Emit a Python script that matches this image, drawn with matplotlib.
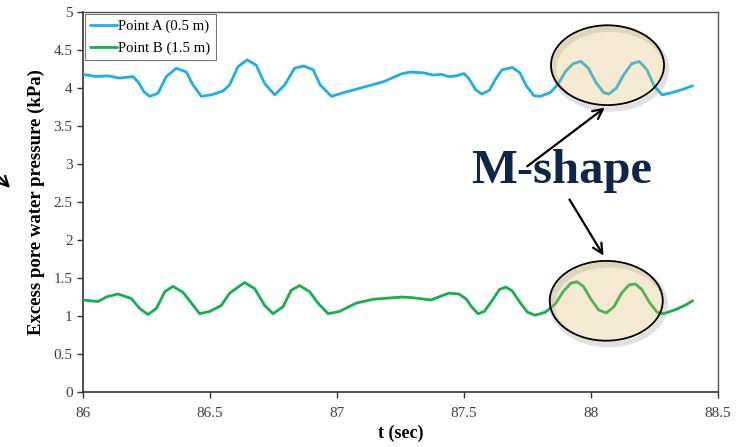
import matplotlib
matplotlib.use("Agg")
import matplotlib.pyplot as plt
from matplotlib.patches import Ellipse

# ---- data ----
t_a = [86.000, 86.052, 86.098, 86.144, 86.197, 86.217, 86.240, 86.262, 86.295, 86.328,
       86.367, 86.407, 86.433, 86.466, 86.505, 86.551, 86.577, 86.610, 86.646, 86.682,
       86.715, 86.755, 86.794, 86.833, 86.869, 86.906, 86.934, 86.978, 87.037, 87.115,
       87.181, 87.257, 87.29, 87.34, 87.38, 87.41, 87.44, 87.47, 87.50, 87.52,
       87.545, 87.57, 87.60, 87.625, 87.65, 87.69, 87.72, 87.745, 87.775, 87.80,
       87.84, 87.87, 87.90, 87.93, 87.96, 87.99, 88.02, 88.05, 88.07, 88.10,
       88.13, 88.16, 88.19, 88.22, 88.25, 88.28, 88.32, 88.36, 88.40]
p_a = [4.18, 4.15, 4.16, 4.13, 4.15, 4.08, 3.95, 3.89, 3.93, 4.15,
       4.26, 4.21, 4.04, 3.89, 3.91, 3.96, 4.04, 4.28, 4.37, 4.30,
       4.06, 3.91, 4.04, 4.26, 4.29, 4.24, 4.04, 3.89, 3.95, 4.02,
       4.08, 4.19, 4.21, 4.20, 4.17, 4.18, 4.15, 4.16, 4.19, 4.12,
       3.98, 3.92, 3.97, 4.12, 4.24, 4.27, 4.20, 4.03, 3.90, 3.89,
       3.94, 4.05, 4.22, 4.32, 4.35, 4.26, 4.07, 3.94, 3.92, 4.00,
       4.18, 4.32, 4.35, 4.24, 4.02, 3.91, 3.94, 3.98, 4.03]

t_b = [86.000, 86.059, 86.092, 86.138, 86.190, 86.223, 86.256, 86.289, 86.322, 86.354,
       86.394, 86.427, 86.459, 86.499, 86.545, 86.577, 86.636, 86.676, 86.715, 86.748,
       86.787, 86.820, 86.853, 86.892, 86.925, 86.965, 87.010, 87.076, 87.142, 87.257,
       87.30, 87.37, 87.40, 87.44, 87.48, 87.51, 87.53, 87.555, 87.58, 87.61,
       87.64, 87.665, 87.69, 87.72, 87.75, 87.78, 87.82, 87.86, 87.89, 87.92,
       87.945, 87.97, 88.00, 88.03, 88.06, 88.09, 88.12, 88.15, 88.175, 88.20,
       88.23, 88.26, 88.285, 88.33, 88.37, 88.40]
p_b = [1.21, 1.19, 1.25, 1.29, 1.23, 1.10, 1.02, 1.10, 1.32, 1.39,
       1.31, 1.17, 1.03, 1.06, 1.14, 1.30, 1.44, 1.36, 1.14, 1.03,
       1.12, 1.34, 1.40, 1.32, 1.17, 1.03, 1.06, 1.17, 1.22, 1.25,
       1.24, 1.21, 1.25, 1.30, 1.29, 1.22, 1.12, 1.03, 1.06, 1.20,
       1.35, 1.38, 1.33, 1.18, 1.05, 1.01, 1.05, 1.16, 1.32, 1.43,
       1.45, 1.39, 1.22, 1.08, 1.04, 1.12, 1.30, 1.41, 1.42, 1.35,
       1.18, 1.05, 1.03, 1.08, 1.14, 1.20]

series_labels = ["Point A (0.5 m)", "Point B (1.5 m)"]
x_ticks = [86, 86.5, 87, 87.5, 88, 88.5]
x_tick_labels = ["86", "86.5", "87", "87.5", "88", "88.5"]
y_ticks = [0, 0.5, 1, 1.5, 2, 2.5, 3, 3.5, 4, 4.5, 5]
y_tick_labels = ["0", "0.5", "1", "1.5", "2", "2.5", "3", "3.5", "4", "4.5", "5"]
# highlighted M-shape regions: (t centre, pressure centre)
highlight_t = [88.065, 88.06]
highlight_p = [4.30, 1.20]

plt.rcParams['font.family'] = ['Liberation Serif', 'DejaVu Serif']

W, H = 739, 447
fig = plt.figure(figsize=(W / 100, H / 100), dpi=100)
ax = fig.add_axes([83 / W, 1 - 392 / H, (718 - 83) / W, (392 - 12) / H])

blue = '#1BB0EC'
green = '#13B04E'
ax.plot(t_a, p_a, color=blue, lw=2.0, label=series_labels[0],
        solid_joinstyle='round', solid_capstyle='round', zorder=3)
ax.plot(t_b, p_b, color=green, lw=2.0, label=series_labels[1],
        solid_joinstyle='round', solid_capstyle='round', zorder=3)

ax.set_xlim(86, 88.5)
ax.set_ylim(0, 5)
ax.set_xticks(x_ticks)
ax.set_xticklabels(x_tick_labels)
ax.set_yticks(y_ticks)
ax.set_yticklabels(y_tick_labels)
ax.tick_params(axis='both', direction='out', length=4, width=1, labelsize=11,
               labelcolor='#404040', color='#333333')
ax.tick_params(axis='x', pad=7)
for s in ['left', 'bottom']:
    ax.spines[s].set_color('#333333')
    ax.spines[s].set_linewidth(1.2)
for s in ['top', 'right']:
    ax.spines[s].set_color('#555555')
    ax.spines[s].set_linewidth(1.0)

ax.set_ylabel("Excess pore water pressure (kPa)", fontsize=13.5, fontweight='bold', labelpad=6)
ax.set_xlabel("t (sec)", fontsize=13, fontweight='bold', labelpad=3)

leg = ax.legend(loc='upper left', fontsize=10.6, frameon=True, fancybox=False,
                handlelength=1.8, handletextpad=0.1, borderaxespad=0.15,
                borderpad=0.35, labelspacing=0.6)
leg.get_frame().set_edgecolor('#555555')
leg.get_frame().set_linewidth(0.8)

# highlight ellipses
for tc, pc in zip(highlight_t, highlight_p):
    sh = Ellipse((tc + 0.01, pc - 0.05), 0.445, 1.05, facecolor='none',
                 edgecolor='#888888', alpha=0.25, lw=4, zorder=3.5)
    ax.add_patch(sh)
    e = Ellipse((tc, pc), 0.445, 1.05, facecolor=(0.86, 0.73, 0.42, 0.30),
                edgecolor='black', lw=1.3, zorder=4)
    ax.add_patch(e)

# annotation text and arrows (figure pixels, origin bottom-left)
fig.text(562 / W, 1 - 183 / H, "M-shape", fontsize=35, fontweight='bold',
         color='#0F2647', ha='center', va='baseline', zorder=5)
arrow = dict(arrowstyle='->,head_length=0.7,head_width=0.35', color='black', lw=1.6)
fig.add_artist(plt.Annotation("", xy=(607, H - 106), xycoords='figure pixels',
                              xytext=(525, H - 168), textcoords='figure pixels',
                              arrowprops=arrow, zorder=6))
fig.add_artist(plt.Annotation("", xy=(605, H - 258), xycoords='figure pixels',
                              xytext=(568, H - 197), textcoords='figure pixels',
                              arrowprops=arrow, zorder=6))
fig.add_artist(plt.Annotation("", xy=(12, H - 190), xycoords='figure pixels',
                              xytext=(-14, H - 163), textcoords='figure pixels',
                              arrowprops=arrow, zorder=6))

fig.savefig("out.png", dpi=100)
